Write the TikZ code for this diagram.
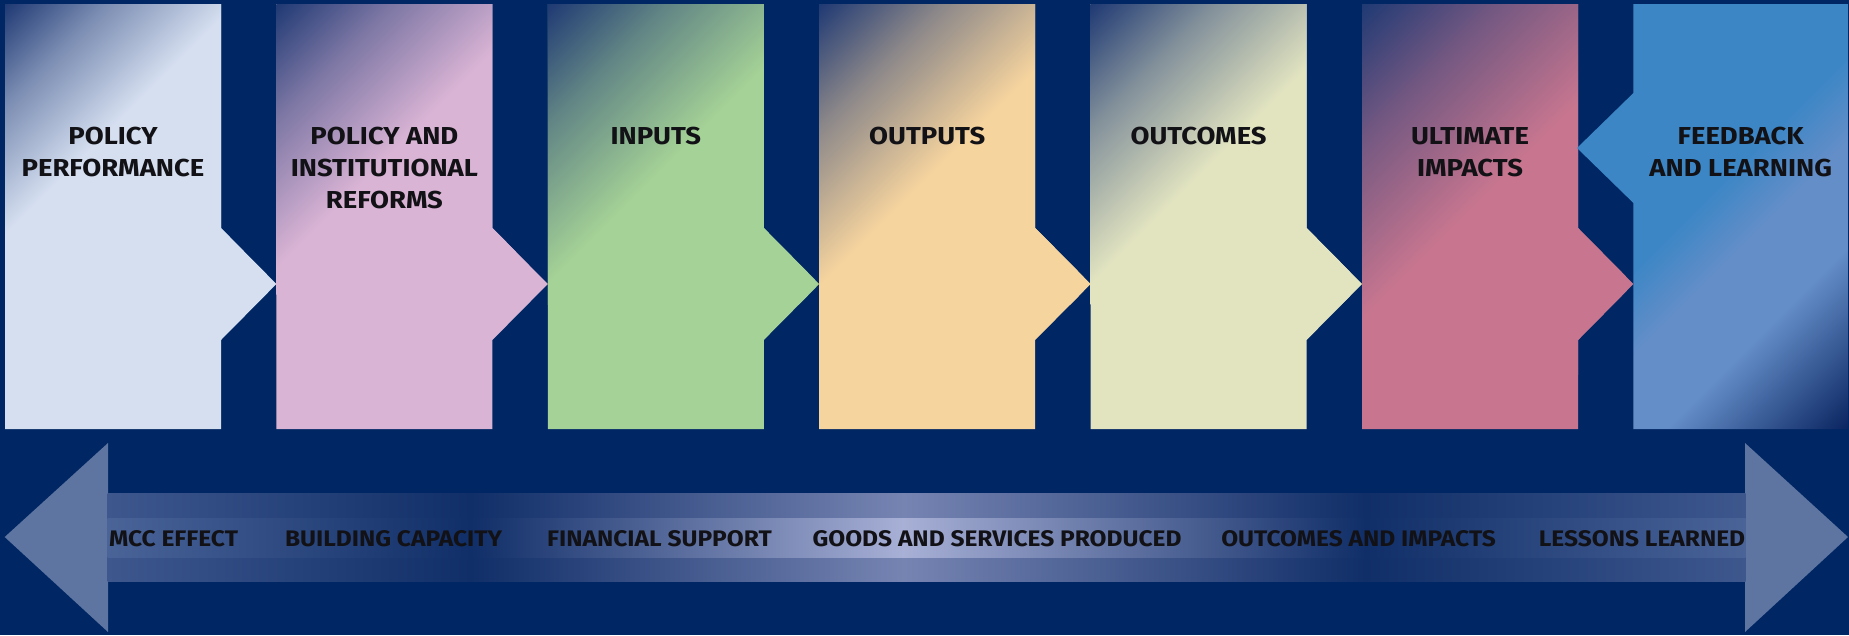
\documentclass[tikz,border=0pt]{standalone}
\usepackage{fontspec}
\newfontfamily\stagefont{Fira Sans}[FakeStretch=1.12]
\newfontfamily\flowfont{Fira Sans}[FakeStretch=1.09]

% palette
\definecolor{bg}{RGB}{0,38,99}
\definecolor{fadedark}{RGB}{32,58,116}
\definecolor{polperf}{RGB}{213,223,240}
\definecolor{polref}{RGB}{218,180,213}
\definecolor{inputs}{RGB}{165,210,150}
\definecolor{outputs}{RGB}{246,212,158}
\definecolor{outcomes}{RGB}{226,228,192}
\definecolor{impacts}{RGB}{200,118,143}
\definecolor{fbblue}{RGB}{60,134,198}
\definecolor{fblight}{RGB}{100,142,200}
\definecolor{fbdark}{RGB}{10,36,96}
\definecolor{headc}{RGB}{94,117,162}
\definecolor{shaftend}{RGB}{62,88,142}
\definecolor{shaftinend}{RGB}{74,100,152}
\definecolor{shaftdark}{RGB}{16,46,104}
\definecolor{shaftmid}{RGB}{118,132,178}
\definecolor{shaftinmid}{RGB}{168,176,214}
\definecolor{ink}{RGB}{18,18,22}

% diagonal fade from the dark corner into the stage colour
\colorlet{bxc}{polperf}
\pgfdeclarehorizontalshading[bxc]{boxfade}{100bp}{%
  color(0bp)=(fadedark); color(14.6bp)=(fadedark);
  color(30bp)=(fadedark!50!bxc);
  color(50bp)=(bxc); color(100bp)=(bxc)}
% feedback box: blue top, lighter band, dark lower corner, all along one diagonal
\pgfdeclarehorizontalshading{feedbackfade}{100bp}{%
  color(0bp)=(fbblue); color(47bp)=(fbblue);
  color(54bp)=(fblight); color(62.5bp)=(fblight);
  color(77.2bp)=(fbdark); color(100bp)=(fbdark)}
% the long double arrow at the bottom
\pgfdeclarehorizontalshading{shaftouter}{100bp}{%
  color(0bp)=(shaftend); color(25bp)=(shaftend);
  color(36.1bp)=(shaftdark); color(49.3bp)=(shaftmid);
  color(63.4bp)=(shaftdark); color(75bp)=(shaftend); color(100bp)=(shaftend)}
\pgfdeclarehorizontalshading{shaftinner}{100bp}{%
  color(0bp)=(shaftinend); color(25bp)=(shaftinend);
  color(36.1bp)=(shaftdark); color(49.3bp)=(shaftinmid);
  color(63.4bp)=(shaftdark); color(75bp)=(shaftinend); color(100bp)=(shaftinend)}

\tikzset{
  stagelabel/.style={font=\stagefont\bfseries\fontsize{24.5}{32}\selectfont,
    align=center, anchor=base, inner sep=0pt, text=ink},
  flowlabel/.style={font=\flowfont\bfseries\fontsize{22.5}{24}\selectfont,
    anchor=base, inner sep=0pt, text=ink},
}

% one stage: left edge, colour, width and height of the fading area
\newcommand\stagebox[4]{%
  \colorlet{bxc}{#2}%
  \begin{scope}
    \clip (#1,4) -- (#1+216,4) -- (#1+216,228) -- (#1+271.4,284)
      -- (#1+216,340) -- (#1+216,429) -- (#1,429) -- cycle;
    \fill[bxc] (#1-2,2) rectangle (#1+274,431);
    \shade[shading=boxfade, shading angle=-45] (#1,4) rectangle (#1+#3,4+#4);
  \end{scope}}

\begin{document}
\begin{tikzpicture}[x=1pt,y=-1pt]
  \useasboundingbox (0,0) rectangle (1849,635);
  \fill[bg] (0,0) rectangle (1849,635);

  % stages
  \stagebox{5}{polperf}{225}{235}
  \stagebox{276.4}{polref}{240}{290}
  \stagebox{547.8}{inputs}{260}{300}
  \stagebox{819.2}{outputs}{265}{300}
  \stagebox{1090.6}{outcomes}{260}{300}
  \stagebox{1362}{impacts}{260}{370}

  % feedback stage, pointing back to the left
  \begin{scope}
    \clip (1633.4,4) -- (1848,4) -- (1848,429) -- (1633.4,429) -- (1633.4,203)
      -- (1577,148) -- (1633.4,93) -- cycle;
    \shade[shading=feedbackfade, shading angle=-45] (1500,0) rectangle (1940,440);
  \end{scope}

  \node[stagelabel] (s1) at (113,176) {POLICY\\PERFORMANCE};
  \node[stagelabel] (s2) at (384.4,208) {POLICY AND\\INSTITUTIONAL\\REFORMS};
  \node[stagelabel] (s3) at (655.8,144) {INPUTS};
  \node[stagelabel] (s4) at (927.2,144) {OUTPUTS};
  \node[stagelabel] (s5) at (1198.6,144) {OUTCOMES};
  \node[stagelabel] (s6) at (1470,176) {ULTIMATE\\IMPACTS};
  \node[stagelabel] (s7) at (1740.7,176) {FEEDBACK\\AND LEARNING};

  % double arrow
  \fill[headc] (4.7,537) -- (108,443) -- (108,632) -- cycle;
  \fill[headc] (1745,443) -- (1848,537) -- (1745,632) -- cycle;
  \shade[shading=shaftouter] (107.5,493) rectangle (1745.5,581);
  \shade[shading=shaftinner] (107.5,518) rectangle (1745.5,557);

  \node[flowlabel] (f1) at (173.5,546.5) {MCC EFFECT};
  \node[flowlabel] (f2) at (393.6,546.5) {BUILDING CAPACITY};
  \node[flowlabel] (f3) at (659.5,546.5) {FINANCIAL SUPPORT};
  \node[flowlabel] (f4) at (997,546.5) {GOODS AND SERVICES PRODUCED};
  \node[flowlabel] (f5) at (1358.5,546.5) {OUTCOMES AND IMPACTS};
  \node[flowlabel] (f6) at (1642,546.5) {LESSONS LEARNED};
\end{tikzpicture}
\end{document}
